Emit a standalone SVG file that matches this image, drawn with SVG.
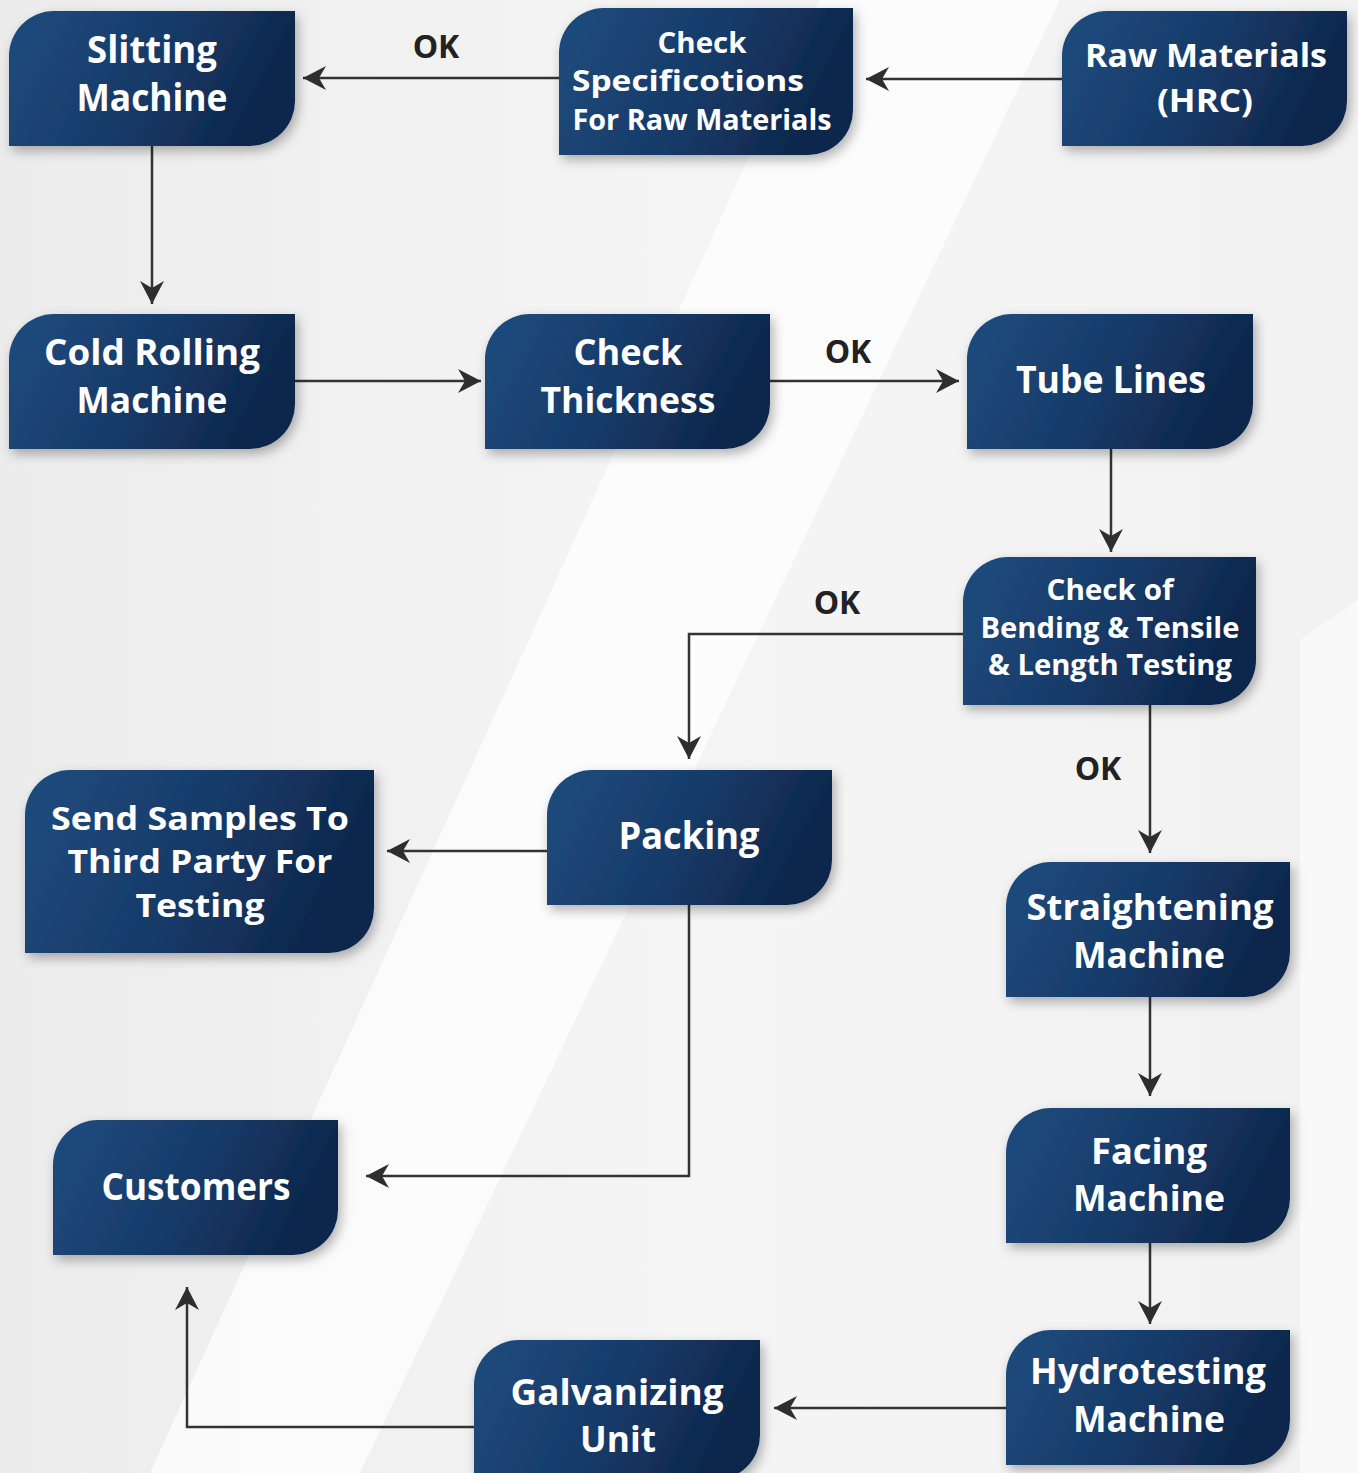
<svg xmlns="http://www.w3.org/2000/svg" width="1358" height="1473" viewBox="0 0 1358 1473">
<defs>
<linearGradient id="bg" x1="0" y1="0" x2="1" y2="0">
<stop offset="0" stop-color="#ececec"/>
<stop offset="0.5" stop-color="#f5f5f5"/>
<stop offset="1" stop-color="#f2f2f2"/>
</linearGradient>
<linearGradient id="nodeFill" x1="0" y1="0" x2="1" y2="0.25">
<stop offset="0" stop-color="#1f4c7e"/>
<stop offset="0.55" stop-color="#173b69"/>
<stop offset="1" stop-color="#0e264b"/>
</linearGradient>
<filter id="shadow" x="-20%" y="-20%" width="140%" height="150%">
<feDropShadow dx="3" dy="5" stdDeviation="6" flood-color="#000" flood-opacity="0.3"/>
</filter>
<marker id="arrow" markerUnits="userSpaceOnUse" markerWidth="26" markerHeight="26" viewBox="0 -13 24 26" refX="23" refY="0" orient="auto">
<path d="M0,-12 L23,0 L0,12 L7,0 Z" fill="#2e2e2e"/>
</marker>
</defs>
<style>
.node path{fill:url(#nodeFill);filter:url(#shadow)}
.node text{font-family:"Open Sans","Noto Sans",sans-serif;font-weight:700;fill:#ffffff;text-anchor:middle}
.conn{fill:none;stroke:#333333;stroke-width:2.5;marker-end:url(#arrow)}
.ok{font-family:"Open Sans","Noto Sans",sans-serif;font-weight:700;font-size:32px;fill:#222222;text-anchor:middle}
</style>
<rect width="1358" height="1473" fill="url(#bg)"/>
<polygon points="820,0 1060,0 360,1473 150,1473" fill="#ffffff" opacity="0.7"/>
<polygon points="1300,640 1358,600 1358,1473 1300,1473" fill="#f9f9f9"/>

<g id="connectors">
<line class="conn" x1="1062" y1="79" x2="866" y2="79"/>
<line class="conn" x1="559" y1="78" x2="303" y2="78"/>
<line class="conn" x1="152" y1="146" x2="152" y2="304"/>
<line class="conn" x1="295" y1="381" x2="481" y2="381"/>
<line class="conn" x1="770" y1="381" x2="959" y2="381"/>
<line class="conn" x1="1111" y1="449" x2="1111" y2="552"/>
<polyline class="conn" points="963,634 689,634 689,759"/>
<line class="conn" x1="1150" y1="705" x2="1150" y2="853"/>
<line class="conn" x1="547" y1="851" x2="387" y2="851"/>
<polyline class="conn" points="689,905 689,1176 366,1176"/>
<line class="conn" x1="1150" y1="997" x2="1150" y2="1096"/>
<line class="conn" x1="1150" y1="1243" x2="1150" y2="1324"/>
<line class="conn" x1="1006" y1="1408" x2="774" y2="1408"/>
<polyline class="conn" points="474,1427 187,1427 187,1287"/>
<text class="ok" x="436" y="58">OK</text>
<text class="ok" x="848" y="363">OK</text>
<text class="ok" x="837" y="614">OK</text>
<text class="ok" x="1098" y="780">OK</text>
</g>

<g id="slitting" class="node">
<path d="M54,11 H295 V101 A45,45 0 0 1 250,146 H9 V56 A45,45 0 0 1 54,11 Z"/>
<text x="152" y="63" font-size="38" textLength="130" lengthAdjust="spacingAndGlyphs">Slitting</text>
<text x="152" y="111" font-size="38" textLength="151" lengthAdjust="spacingAndGlyphs">Machine</text>
</g>
<g id="check-spec" class="node">
<path d="M604,8 H853 V110 A45,45 0 0 1 808,155 H559 V53 A45,45 0 0 1 604,8 Z"/>
<text x="702" y="53" font-size="29" textLength="89" lengthAdjust="spacingAndGlyphs">Check</text>
<text x="688" y="91" font-size="29" textLength="232" lengthAdjust="spacingAndGlyphs">Specificotions</text>
<text x="702" y="130" font-size="29" textLength="259" lengthAdjust="spacingAndGlyphs">For Raw Materials</text>
</g>
<g id="raw-materials" class="node">
<path d="M1107,11 H1347 V101 A45,45 0 0 1 1302,146 H1062 V56 A45,45 0 0 1 1107,11 Z"/>
<text x="1206" y="67" font-size="33" textLength="242" lengthAdjust="spacingAndGlyphs">Raw Materials</text>
<text x="1205" y="112" font-size="33" textLength="96" lengthAdjust="spacingAndGlyphs">(HRC)</text>
</g>
<g id="cold-rolling" class="node">
<path d="M54,314 H295 V404 A45,45 0 0 1 250,449 H9 V359 A45,45 0 0 1 54,314 Z"/>
<text x="152" y="365" font-size="36" textLength="216" lengthAdjust="spacingAndGlyphs">Cold Rolling</text>
<text x="152" y="413" font-size="36" textLength="151" lengthAdjust="spacingAndGlyphs">Machine</text>
</g>
<g id="check-thickness" class="node">
<path d="M530,314 H770 V404 A45,45 0 0 1 725,449 H485 V359 A45,45 0 0 1 530,314 Z"/>
<text x="628" y="365" font-size="36" textLength="109" lengthAdjust="spacingAndGlyphs">Check</text>
<text x="628" y="413" font-size="36" textLength="175" lengthAdjust="spacingAndGlyphs">Thickness</text>
</g>
<g id="tube-lines" class="node">
<path d="M1012,314 H1253 V404 A45,45 0 0 1 1208,449 H967 V359 A45,45 0 0 1 1012,314 Z"/>
<text x="1111" y="393" font-size="38" textLength="190" lengthAdjust="spacingAndGlyphs">Tube Lines</text>
</g>
<g id="check-bending" class="node">
<path d="M1008,557 H1256 V660 A45,45 0 0 1 1211,705 H963 V602 A45,45 0 0 1 1008,557 Z"/>
<text x="1110" y="600" font-size="28" textLength="127" lengthAdjust="spacingAndGlyphs">Check of</text>
<text x="1110" y="638" font-size="28" textLength="259" lengthAdjust="spacingAndGlyphs">Bending &amp; Tensile</text>
<text x="1110" y="675" font-size="28" textLength="244" lengthAdjust="spacingAndGlyphs">&amp; Length Testing</text>
</g>
<g id="packing" class="node">
<path d="M592,770 H832 V860 A45,45 0 0 1 787,905 H547 V815 A45,45 0 0 1 592,770 Z"/>
<text x="689" y="849" font-size="38" textLength="141" lengthAdjust="spacingAndGlyphs">Packing</text>
</g>
<g id="send-samples" class="node">
<path d="M70,770 H374 V908 A45,45 0 0 1 329,953 H25 V815 A45,45 0 0 1 70,770 Z"/>
<text x="200" y="830" font-size="32" textLength="298" lengthAdjust="spacingAndGlyphs">Send Samples To</text>
<text x="200" y="873" font-size="32" textLength="265" lengthAdjust="spacingAndGlyphs">Third Party For</text>
<text x="200" y="917" font-size="32" textLength="129" lengthAdjust="spacingAndGlyphs">Testing</text>
</g>
<g id="straightening" class="node">
<path d="M1051,862 H1290 V952 A45,45 0 0 1 1245,997 H1006 V907 A45,45 0 0 1 1051,862 Z"/>
<text x="1150" y="920" font-size="36" textLength="247" lengthAdjust="spacingAndGlyphs">Straightening</text>
<text x="1149" y="968" font-size="36" textLength="152" lengthAdjust="spacingAndGlyphs">Machine</text>
</g>
<g id="facing" class="node">
<path d="M1051,1108 H1290 V1198 A45,45 0 0 1 1245,1243 H1006 V1153 A45,45 0 0 1 1051,1108 Z"/>
<text x="1149" y="1164" font-size="36" textLength="116" lengthAdjust="spacingAndGlyphs">Facing</text>
<text x="1149" y="1211" font-size="36" textLength="152" lengthAdjust="spacingAndGlyphs">Machine</text>
</g>
<g id="hydrotesting" class="node">
<path d="M1051,1330 H1290 V1420 A45,45 0 0 1 1245,1465 H1006 V1375 A45,45 0 0 1 1051,1330 Z"/>
<text x="1148" y="1384" font-size="36" textLength="236" lengthAdjust="spacingAndGlyphs">Hydrotesting</text>
<text x="1149" y="1432" font-size="36" textLength="152" lengthAdjust="spacingAndGlyphs">Machine</text>
</g>
<g id="customers" class="node">
<path d="M98,1120 H338 V1210 A45,45 0 0 1 293,1255 H53 V1165 A45,45 0 0 1 98,1120 Z"/>
<text x="196" y="1200" font-size="38" textLength="189" lengthAdjust="spacingAndGlyphs">Customers</text>
</g>
<g id="galvanizing" class="node">
<path d="M519,1340 H760 V1435 A45,45 0 0 1 715,1480 H474 V1385 A45,45 0 0 1 519,1340 Z"/>
<text x="617" y="1405" font-size="36" textLength="213" lengthAdjust="spacingAndGlyphs">Galvanizing</text>
<text x="618" y="1452" font-size="36" textLength="76" lengthAdjust="spacingAndGlyphs">Unit</text>
</g>
</svg>
